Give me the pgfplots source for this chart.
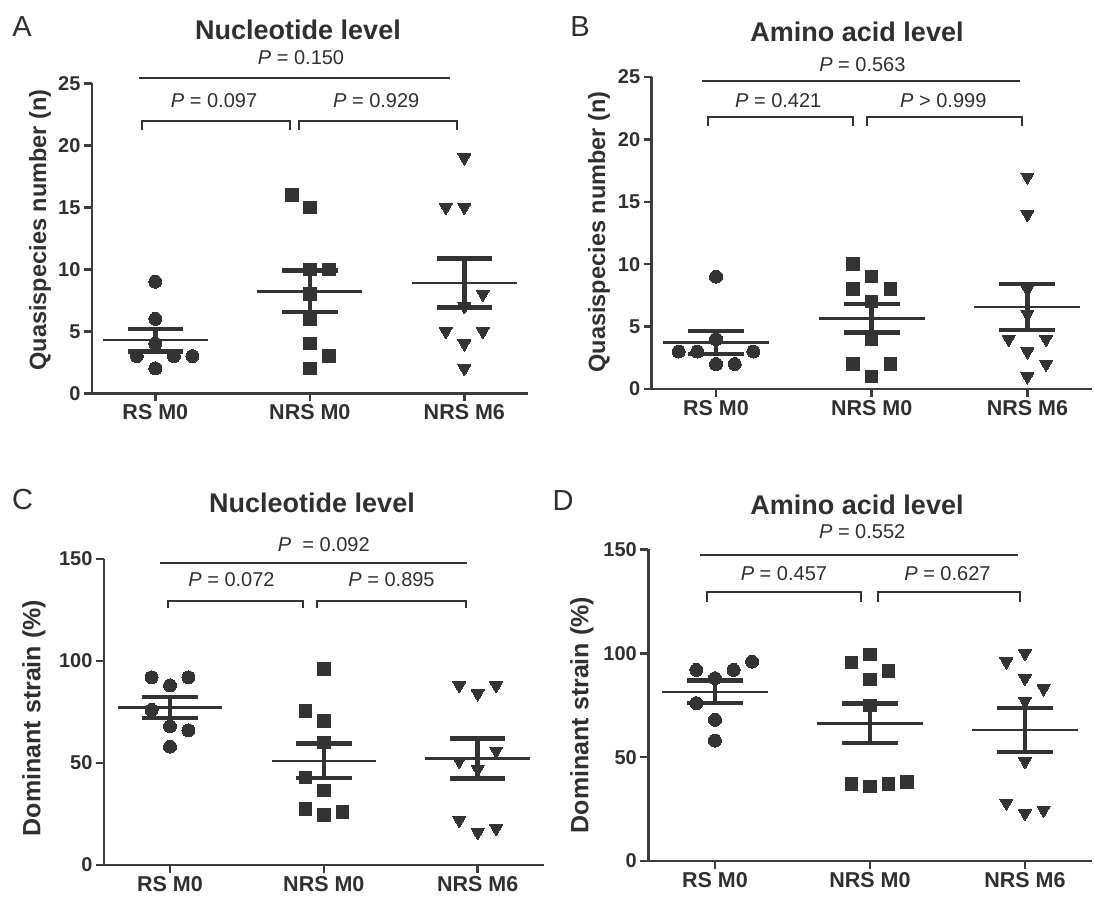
\documentclass[border=0pt]{standalone}
\usepackage{pgfplots}
\pgfplotsset{compat=1.18}
\usepackage{fontspec}
\setmainfont{Liberation Sans}
\definecolor{mk}{HTML}{333333}
\definecolor{axc}{HTML}{3C3C3C}
\definecolor{txt}{HTML}{303030}
\newcommand{\ytickfont}{\fontsize{20bp}{22bp}\selectfont\bfseries}
\newcommand{\xtickfont}{\fontsize{21.5bp}{24bp}\selectfont\bfseries}
\newcommand{\pfont}{\fontsize{20bp}{24bp}\selectfont}
\newcommand{\titlefont}{\fontsize{27bp}{30bp}\selectfont\bfseries}
\newcommand{\letfont}{\fontsize{29bp}{34bp}\selectfont}
\pgfplotsset{
 panel/.style={
  scale only axis, clip=false,
  axis lines=left,
  axis line style={-, line width=2.5bp, draw=axc},
  xtick={0,1,2}, xticklabels={RS M0,NRS M0,NRS M6},
  tick align=outside,
  major tick length=8bp,
  tick style={line width=2.5bp, draw=axc},
  yticklabel style={font=\ytickfont, text=txt},
  xticklabel style={font=\xtickfont, text=txt},
  /pgf/number format/assume math mode=true,
  ymin=0,
  unbounded coords=jump,
 },
 circ/.style={only marks, mark=*, mark size=6.5bp, mark options={fill=mk, draw=mk, line width=0pt}},
 sqr/.style={only marks, mark=square*, mark size=6.2bp, mark options={fill=mk, draw=mk, line width=0pt}},
 tri/.style={only marks, mark=triangle*, mark size=7.5bp, mark options={fill=mk, draw=mk, line width=0pt, rotate=180}},
 meanl/.style={no marks, line width=2.5bp, draw=mk},
 seml/.style={no marks, line width=4.5bp, draw=mk},
}
\tikzset{pv/.style={font=\pfont, text=txt, inner sep=0pt}, brk/.style={line width=2bp, draw=mk}}
\begin{document}
\begin{tikzpicture}
\useasboundingbox (0,0) rectangle (1094bp,900bp);
% ---------------- A ----------------
\begin{axis}[panel, at={(92bp,506.7bp)}, anchor=south west, width=435.7bp, height=310bp,
  xmin=-0.41, xmax=2.41, ymax=25, ytick={0,5,10,15,20,25}]
\addplot[circ] coordinates {(0,9) (0,6) (0,4) (-0.12,3) (0.12,3) (0.24,3) (0,2)};
\addplot[sqr] coordinates {(0.885,16) (1,15) (1,10) (1.125,10) (1,8) (1,6) (1,4) (1.125,3) (1,2)};
\addplot[tri] coordinates {(2,19) (1.88,15) (2,15) (2.12,8) (2,7) (1.88,5) (2.12,5) (2,4) (2,2)};
\addplot[meanl] coordinates {(-0.34,4.286) (0.34,4.286) (0,nan) (0.66,8.222) (1.34,8.222) (1,nan) (1.66,8.889) (2.34,8.889)};
\addplot[seml] coordinates {(-0.18,5.204) (0.18,5.204) (0,nan) (-0.18,3.368) (0.18,3.368) (0,nan) (0,3.368) (0,5.204) (0,nan)
  (0.82,9.895) (1.18,9.895) (1,nan) (0.82,6.549) (1.18,6.549) (1,nan) (1,6.549) (1,9.895) (1,nan)
  (1.82,10.871) (2.18,10.871) (2,nan) (1.82,6.907) (2.18,6.907) (2,nan) (2,6.907) (2,10.871)};
\draw[brk] (axis cs:-0.104,25.4) -- (axis cs:1.909,25.4);
\draw[brk] (axis cs:-0.086,21.2) -- (axis cs:-0.086,21.98) -- (axis cs:0.874,21.98) -- (axis cs:0.874,21.2);
\draw[brk] (axis cs:0.932,21.2) -- (axis cs:0.932,21.98) -- (axis cs:1.953,21.98) -- (axis cs:1.953,21.2);
\node[pv] at (axis cs:0.38,23.6) {\textit{P} = 0.097};
\node[pv] at (axis cs:1.43,23.6) {\textit{P} = 0.929};
\node[pv] at (axis cs:0.943,27.1) {\textit{P} = 0.150};
\end{axis}
% ---------------- B ----------------
\begin{axis}[panel, at={(651.7bp,511bp)}, anchor=south west, width=440bp, height=312bp,
  xmin=-0.413, xmax=2.413, ymax=25, ytick={0,5,10,15,20,25}]
\addplot[circ] coordinates {(0,9) (0,4) (-0.24,3) (-0.12,3) (0.24,3) (0,2) (0.12,2)};
\addplot[sqr] coordinates {(0.88,10) (1,9) (0.88,8) (1.12,8) (1,7) (1,4) (0.88,2) (1.12,2) (1,1)};
\addplot[tri] coordinates {(2,17) (2,14) (2,8) (2,6) (1.88,4) (2.12,4) (2,3) (2.12,2) (2,1)};
\addplot[meanl] coordinates {(-0.34,3.714) (0.34,3.714) (0,nan) (0.66,5.667) (1.34,5.667) (1,nan) (1.66,6.556) (2.34,6.556)};
\addplot[seml] coordinates {(-0.18,4.632) (0.18,4.632) (0,nan) (-0.18,2.796) (0.18,2.796) (0,nan) (0,2.796) (0,4.632) (0,nan)
  (0.82,6.810) (1.18,6.810) (1,nan) (0.82,4.524) (1.18,4.524) (1,nan) (1,4.524) (1,6.810) (1,nan)
  (1.82,8.398) (2.18,8.398) (2,nan) (1.82,4.714) (2.18,4.714) (2,nan) (2,4.714) (2,8.398)};
\draw[brk] (axis cs:-0.092,24.7) -- (axis cs:1.95,24.7);
\draw[brk] (axis cs:-0.049,21.1) -- (axis cs:-0.049,21.8) -- (axis cs:0.883,21.8) -- (axis cs:0.883,21.1);
\draw[brk] (axis cs:0.969,21.1) -- (axis cs:0.969,21.8) -- (axis cs:1.968,21.8) -- (axis cs:1.968,21.1);
\node[pv] at (axis cs:0.40,23.1) {\textit{P} = 0.421};
\node[pv] at (axis cs:1.46,23.1) {\textit{P} > 0.999};
\node[pv] at (axis cs:0.94,26.0) {\textit{P} = 0.563};
\end{axis}
% ---------------- C ----------------
\begin{axis}[panel, at={(104bp,35bp)}, anchor=south west, width=439.7bp, height=306bp,
  xmin=-0.429, xmax=2.429, ymax=150, ytick={0,50,100,150}]
\addplot[circ] coordinates {(-0.12,92) (0.12,92) (0,88) (-0.12,76) (0,68) (0.12,66) (0,58)};
\addplot[sqr] coordinates {(1,96) (0.88,75.5) (1,70.5) (1,60) (0.88,43) (1,36.5) (0.88,27.5) (1,24.5) (1.12,26)};
\addplot[tri] coordinates {(1.88,88) (2,84) (2.12,88) (2.12,56) (1.88,51) (2,47) (1.88,22) (2,16) (2.12,18)};
\addplot[meanl] coordinates {(-0.34,77.14) (0.34,77.14) (0,nan) (0.66,51.06) (1.34,51.06) (1,nan) (1.66,52.22) (2.34,52.22)};
\addplot[seml] coordinates {(-0.18,82.34) (0.18,82.34) (0,nan) (-0.18,71.94) (0.18,71.94) (0,nan) (0,71.94) (0,82.34) (0,nan)
  (0.82,59.59) (1.18,59.59) (1,nan) (0.82,42.53) (1.18,42.53) (1,nan) (1,42.53) (1,59.59) (1,nan)
  (1.82,62.09) (2.18,62.09) (2,nan) (1.82,42.35) (2.18,42.35) (2,nan) (2,42.35) (2,62.09)};
\draw[brk] (axis cs:-0.065,148) -- (axis cs:1.93,148);
\draw[brk] (axis cs:-0.015,126) -- (axis cs:-0.015,129.5) -- (axis cs:0.864,129.5) -- (axis cs:0.864,126);
\draw[brk] (axis cs:0.958,126) -- (axis cs:0.958,129.5) -- (axis cs:1.925,129.5) -- (axis cs:1.925,126);
\node[pv] at (axis cs:0.40,139.7) {\textit{P} = 0.072};
\node[pv] at (axis cs:1.44,139.7) {\textit{P} = 0.895};
\node[pv] at (axis cs:1.0,156.9) {\textit{P}\ \ = 0.092};
\end{axis}
% ---------------- D ----------------
\begin{axis}[panel, at={(648.3bp,39bp)}, anchor=south west, width=443.3bp, height=311.5bp,
  xmin=-0.43, xmax=2.43, ymax=150, ytick={0,50,100,150}]
\addplot[circ] coordinates {(0.24,96) (-0.12,92) (0.12,92) (0,88) (-0.12,76) (0,68) (0,58)};
\addplot[sqr] coordinates {(1,99.5) (0.88,95.5) (1.12,91.5) (1,87.5) (1,75) (0.88,37) (1,36) (1.12,37) (1.24,38)};
\addplot[tri] coordinates {(2,100) (1.88,96) (2,88) (2.12,83) (2,77) (2,48) (1.88,28) (2,23) (2.12,24.5)};
\addplot[meanl] coordinates {(-0.34,81.43) (0.34,81.43) (0,nan) (0.66,66.33) (1.34,66.33) (1,nan) (1.66,63.06) (2.34,63.06)};
\addplot[seml] coordinates {(-0.18,86.86) (0.18,86.86) (0,nan) (-0.18,76.00) (0.18,76.00) (0,nan) (0,76.00) (0,86.86) (0,nan)
  (0.82,75.87) (1.18,75.87) (1,nan) (0.82,56.79) (1.18,56.79) (1,nan) (1,56.79) (1,75.87) (1,nan)
  (1.82,73.74) (2.18,73.74) (2,nan) (1.82,52.38) (2.18,52.38) (2,nan) (2,52.38) (2,73.74)};
\draw[brk] (axis cs:-0.097,147.3) -- (axis cs:1.955,147.3);
\draw[brk] (axis cs:-0.05,124.8) -- (axis cs:-0.05,129.3) -- (axis cs:0.94,129.3) -- (axis cs:0.94,124.8);
\draw[brk] (axis cs:1.05,124.8) -- (axis cs:1.05,129.3) -- (axis cs:1.97,129.3) -- (axis cs:1.97,124.8);
\node[pv] at (axis cs:0.445,138.2) {\textit{P} = 0.457};
\node[pv] at (axis cs:1.5,138.2) {\textit{P} = 0.627};
\node[pv] at (axis cs:0.95,158.4) {\textit{P} = 0.552};
\end{axis}
% ---------------- titles, letters, y labels ----------------
\node[font=\titlefont, text=txt] at (298bp,870bp) {Nucleotide level};
\node[font=\titlefont, text=txt] at (857bp,868bp) {Amino acid level};
\node[font=\titlefont, text=txt] at (312bp,397bp) {Nucleotide level};
\node[font=\titlefont, text=txt] at (857bp,395bp) {Amino acid level};
\node[font=\letfont, text=txt] at (22bp,873bp) {A};
\node[font=\letfont, text=txt] at (580bp,873bp) {B};
\node[font=\letfont, text=txt] at (22.5bp,400bp) {C};
\node[font=\letfont, text=txt] at (563bp,399bp) {D};
\node[font=\fontsize{23.5bp}{26bp}\selectfont\bfseries, text=txt, rotate=90] at (40bp,670bp) {Quasispecies number (n)};
\node[font=\fontsize{23.5bp}{26bp}\selectfont\bfseries, text=txt, rotate=90] at (599bp,668bp) {Quasispecies number (n)};
\node[font=\fontsize{25bp}{28bp}\selectfont\bfseries, text=txt, rotate=90] at (34bp,182bp) {Dominant strain (\%)};
\node[font=\fontsize{25bp}{28bp}\selectfont\bfseries, text=txt, rotate=90] at (582bp,185bp) {Dominant strain (\%)};
\end{tikzpicture}
\end{document}
